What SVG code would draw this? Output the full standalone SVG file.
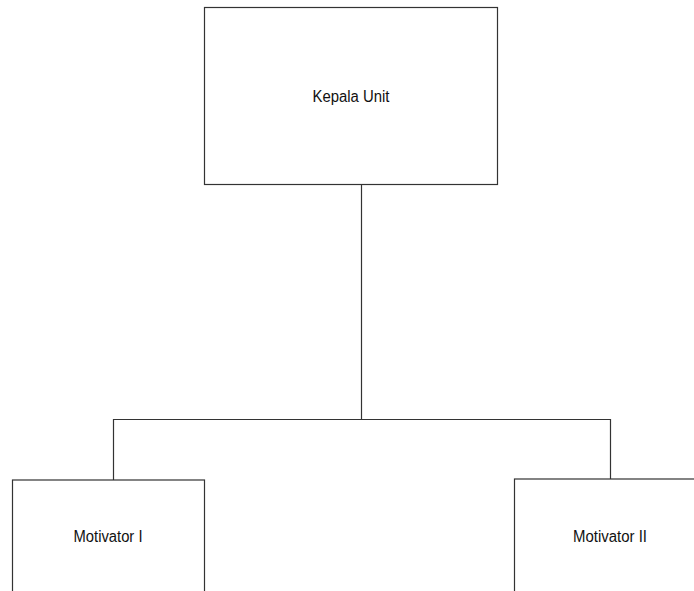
<svg xmlns="http://www.w3.org/2000/svg" width="694" height="591" viewBox="0 0 694 591">
<style>
.box{fill:#fff;stroke:#333;stroke-width:1.2}
.ln{fill:none;stroke:#333;stroke-width:1.2}
.t{font-family:"Liberation Sans",Arial,sans-serif;font-size:16px;fill:#111;text-anchor:middle}
</style>
<rect width="694" height="591" fill="#fff"/>
<g id="connectors">
<line class="ln" x1="361.5" y1="184" x2="361.5" y2="419.5"/>
<polyline class="ln" points="113.5,480 113.5,419.5 610.5,419.5 610.5,479"/>
</g>
<g id="kepala-unit">
<rect class="box" x="204.5" y="7.5" width="293" height="177"/>
<text class="t" x="351" y="102" textLength="77" lengthAdjust="spacingAndGlyphs">Kepala Unit</text>
</g>
<g id="motivator-1">
<rect class="box" x="12.5" y="480" width="192" height="130"/>
<text class="t" x="108" y="542" textLength="69" lengthAdjust="spacingAndGlyphs">Motivator I</text>
</g>
<g id="motivator-2">
<rect class="box" x="514.5" y="479" width="200" height="130"/>
<text class="t" x="610" y="542" textLength="74" lengthAdjust="spacingAndGlyphs">Motivator II</text>
</g>
</svg>
